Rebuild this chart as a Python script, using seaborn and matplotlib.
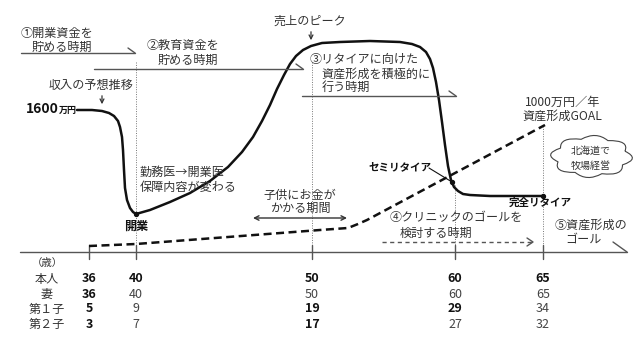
import numpy as np
import matplotlib
matplotlib.use("Agg")
import matplotlib.pyplot as plt
from matplotlib.path import Path
from matplotlib.patches import PathPatch
import seaborn as sns

sns.set_theme(style="white")
plt.rcParams["font.family"] = ["Noto Sans CJK JP", "DejaVu Sans"]

# ---- table of ages under the timeline ----
row_labels = ["本人", "妻", "第１子", "第２子"]
ages_self = [36, 40, 50, 60, 65]
ages_wife = [36, 40, 50, 60, 65]
ages_child1 = [5, 9, 19, 29, 34]
ages_child2 = [3, 7, 17, 27, 32]
emph_self = [True, True, True, True, True]
emph_wife = [True, False, False, False, False]
emph_child1 = [True, False, True, True, False]
emph_child2 = [True, False, True, False, False]

# ---- income curve (timeline position, level above the baseline) ----
income_t = [77, 92, 102, 109, 114, 118, 120, 122, 123, 124, 125, 127, 130, 133, 136,
            150, 170, 190, 210, 228, 242, 253, 262, 270, 277, 284, 290, 296, 303, 311,
            322, 340, 370, 400, 412, 420, 426, 430, 433, 436, 439, 442, 445, 448, 451,
            454, 458, 463, 470, 490, 543]
income_level = [142, 142, 141, 139, 136, 131, 125, 115, 102, 82, 64, 52, 44, 40, 38,
                 42, 50, 59, 71, 85, 100, 115, 131, 147, 163, 177, 188, 196, 202, 206,
                 209, 210, 211, 210, 208, 205, 200, 193, 184, 170, 152, 130, 107, 86, 72,
                 65, 61, 58, 57, 56, 56]

# ---- asset formation path (dashed) ----
asset_t = [89, 136, 320, 348, 358, 367, 545]
asset_level = [6, 8, 22, 24, 28, 32, 127]

BASE = 252          # baseline row in figure pixels
def H(py):
    return BASE - py

tick_x = [89, 136, 312, 455, 543]

fig = plt.figure(figsize=(6.4, 3.45), dpi=100)
ax = fig.add_axes([0, 0, 1, 1])
ax.set_xlim(0, 640)
ax.set_ylim(BASE - 345, BASE)
ax.axis("off")

ink = "#111111"
grey = "#333333"
lgrey = "#555555"
FS = 8.7

# guide lines
for x, top in zip([136, 312, 455, 543], [62, 62, 185, 126]):
    ax.plot([x, x], [H(top), H(252)], ls=(0, (1, 1.5)), lw=0.7, color="#777777")

# timeline axis with ticks and half arrowhead
ax.plot([20, 627], [0, 0], color=lgrey, lw=1.0)
ax.plot([613, 627], [H(242), H(252)], color=lgrey, lw=1.0)
for x in tick_x:
    ax.plot([x, x], [H(245), H(259)], color=lgrey, lw=1.0)

# curves
sns.lineplot(x=asset_t, y=asset_level, sort=False, estimator=None, ax=ax,
             color=ink, lw=1.8, linestyle=(0, (3.2, 1.8)))
sns.lineplot(x=income_t, y=income_level, sort=False, estimator=None, ax=ax,
             color=ink, lw=1.8)
ax.scatter([income_t[-1], 452, income_t[14]], [income_level[-1], H(182), income_level[14]],
           s=8, color=ink, zorder=5)

# period arrows (half barb at the end)
def period_arrow(x0, x1, py):
    ax.plot([x0, x1], [H(py), H(py)], color=lgrey, lw=1.0)
    ax.plot([x1 - 7, x1], [H(py - 5), H(py)], color=lgrey, lw=1.0)

period_arrow(21, 135, 53)
period_arrow(94, 303, 69)
period_arrow(302, 456, 96)

ax.text(21, H(33), "①開業資金を", fontsize=FS, color=grey, va="center", ha="left")
ax.text(32, H(47), "貯める時期", fontsize=FS, color=grey, va="center", ha="left")
ax.text(147, H(45), "②教育資金を", fontsize=FS, color=grey, va="center", ha="left")
ax.text(158, H(60), "貯める時期", fontsize=FS, color=grey, va="center", ha="left")
ax.text(310, H(60), "③リタイアに向けた", fontsize=FS, color=grey, va="center", ha="left")
ax.text(322, H(74), "資産形成を積極的に", fontsize=FS, color=grey, va="center", ha="left")
ax.text(322, H(87), "行う時期", fontsize=FS, color=grey, va="center", ha="left")

# peak and income annotations
ax.text(310, H(21), "売上のピーク", fontsize=FS, color=grey, va="center", ha="center")
ax.annotate("", xy=(311, H(43)), xytext=(311, H(29)),
            arrowprops=dict(arrowstyle="->", color=grey, lw=0.9, mutation_scale=7))
ax.text(91, H(85), "収入の予想推移", fontsize=FS, color=grey, va="center", ha="center")
ax.annotate("", xy=(102, H(107)), xytext=(102, H(93)),
            arrowprops=dict(arrowstyle="->", color=grey, lw=0.9, mutation_scale=7))
ax.text(26, H(109), "1600", fontsize=10, fontweight="bold", color=ink, va="center", ha="left")
ax.text(59, H(110), "万円", fontsize=6.5, fontweight="bold", color=ink, va="center", ha="left")

ax.text(140, H(172), "勤務医→開業医", fontsize=FS, color=grey, va="center", ha="left")
ax.text(140, H(187), "保障内容が変わる", fontsize=FS, color=grey, va="center", ha="left")
ax.text(136, H(226), "開業", fontsize=FS, fontweight="bold", color=ink, va="center", ha="center")

# children period
ax.text(300, H(195), "子供にお金が", fontsize=FS, color=grey, va="center", ha="center")
ax.text(300, H(208), "かかる期間", fontsize=FS, color=grey, va="center", ha="center")
ax.annotate("", xy=(253, H(218)), xytext=(347, H(218)),
            arrowprops=dict(arrowstyle="<->", color=grey, lw=1.0, mutation_scale=8,
                            shrinkA=0, shrinkB=0))

# retirement labels
ax.text(400, H(167), "セミリタイア", fontsize=7.6, fontweight="bold", color=ink,
        va="center", ha="center")
ax.plot([429, 452], [H(168), H(182)], color=ink, lw=0.8)
ax.text(540, H(203), "完全リタイア", fontsize=7.6, fontweight="bold", color=ink,
        va="center", ha="center")

# clinic goal period (dashed arrow)
ax.text(390, H(218), "④クリニックのゴールを", fontsize=FS, color=grey, va="center", ha="left")
ax.text(400, H(233), "検討する時期", fontsize=FS, color=grey, va="center", ha="left")
ax.plot([382, 533], [H(242), H(242)], color=lgrey, lw=1.0, ls=(0, (3, 2.5)))
ax.plot([527, 533, 527], [H(238), H(242), H(246)], color=lgrey, lw=1.0)

ax.text(555, H(225), "⑤資産形成の", fontsize=FS, color=grey, va="center", ha="left")
ax.text(583, H(239), "ゴール", fontsize=FS, color=grey, va="center", ha="center")

# asset goal
ax.text(563, H(102), "1000万円／年", fontsize=FS, color=grey, va="center", ha="center")
ax.text(562, H(116), "資産形成GOAL", fontsize=FS, color=grey, va="center", ha="center")

# cloud
def cloud(cx, cy, rx, ry, n=8, bulge=0.42):
    ang = np.linspace(0, 2 * np.pi, n + 1) + 0.3
    pts = np.c_[cx + rx * np.cos(ang), cy + ry * np.sin(ang)]
    verts = [pts[0]]
    codes = [Path.MOVETO]
    for i in range(n):
        am = (ang[i] + ang[i + 1]) / 2
        ctrl = (cx + rx * (1 + bulge) * np.cos(am), cy + ry * (1 + bulge) * np.sin(am))
        verts += [ctrl, pts[i + 1]]
        codes += [Path.CURVE3, Path.CURVE3]
    ax.add_patch(PathPatch(Path(verts, codes), fc="white", ec="#444444", lw=0.8, zorder=3))

cloud(591.5, H(156.5), 35, 18)
ax.text(591, H(151), "北海道で", fontsize=7.2, color=grey, va="center", ha="center", zorder=4)
ax.text(591, H(166), "牧場経営", fontsize=7.2, color=grey, va="center", ha="center", zorder=4)

# age table
ax.text(47, H(263), "（歳）", fontsize=7.5, color=grey, va="center", ha="center")
rows = [(ages_self, emph_self), (ages_wife, emph_wife),
        (ages_child1, emph_child1), (ages_child2, emph_child2)]
row_py = [279, 294, 309, 324]
for label, (vals, emph), py in zip(row_labels, rows, row_py):
    ax.text(47, H(py), label, fontsize=FS, color=grey, va="center", ha="center")
    for x, v, b in zip(tick_x, vals, emph):
        ax.text(x, H(py), str(v), fontsize=9,
                fontweight="bold" if b else "normal",
                color=ink if b else "#444444", va="center", ha="center")

fig.savefig("out.png", dpi=100)
